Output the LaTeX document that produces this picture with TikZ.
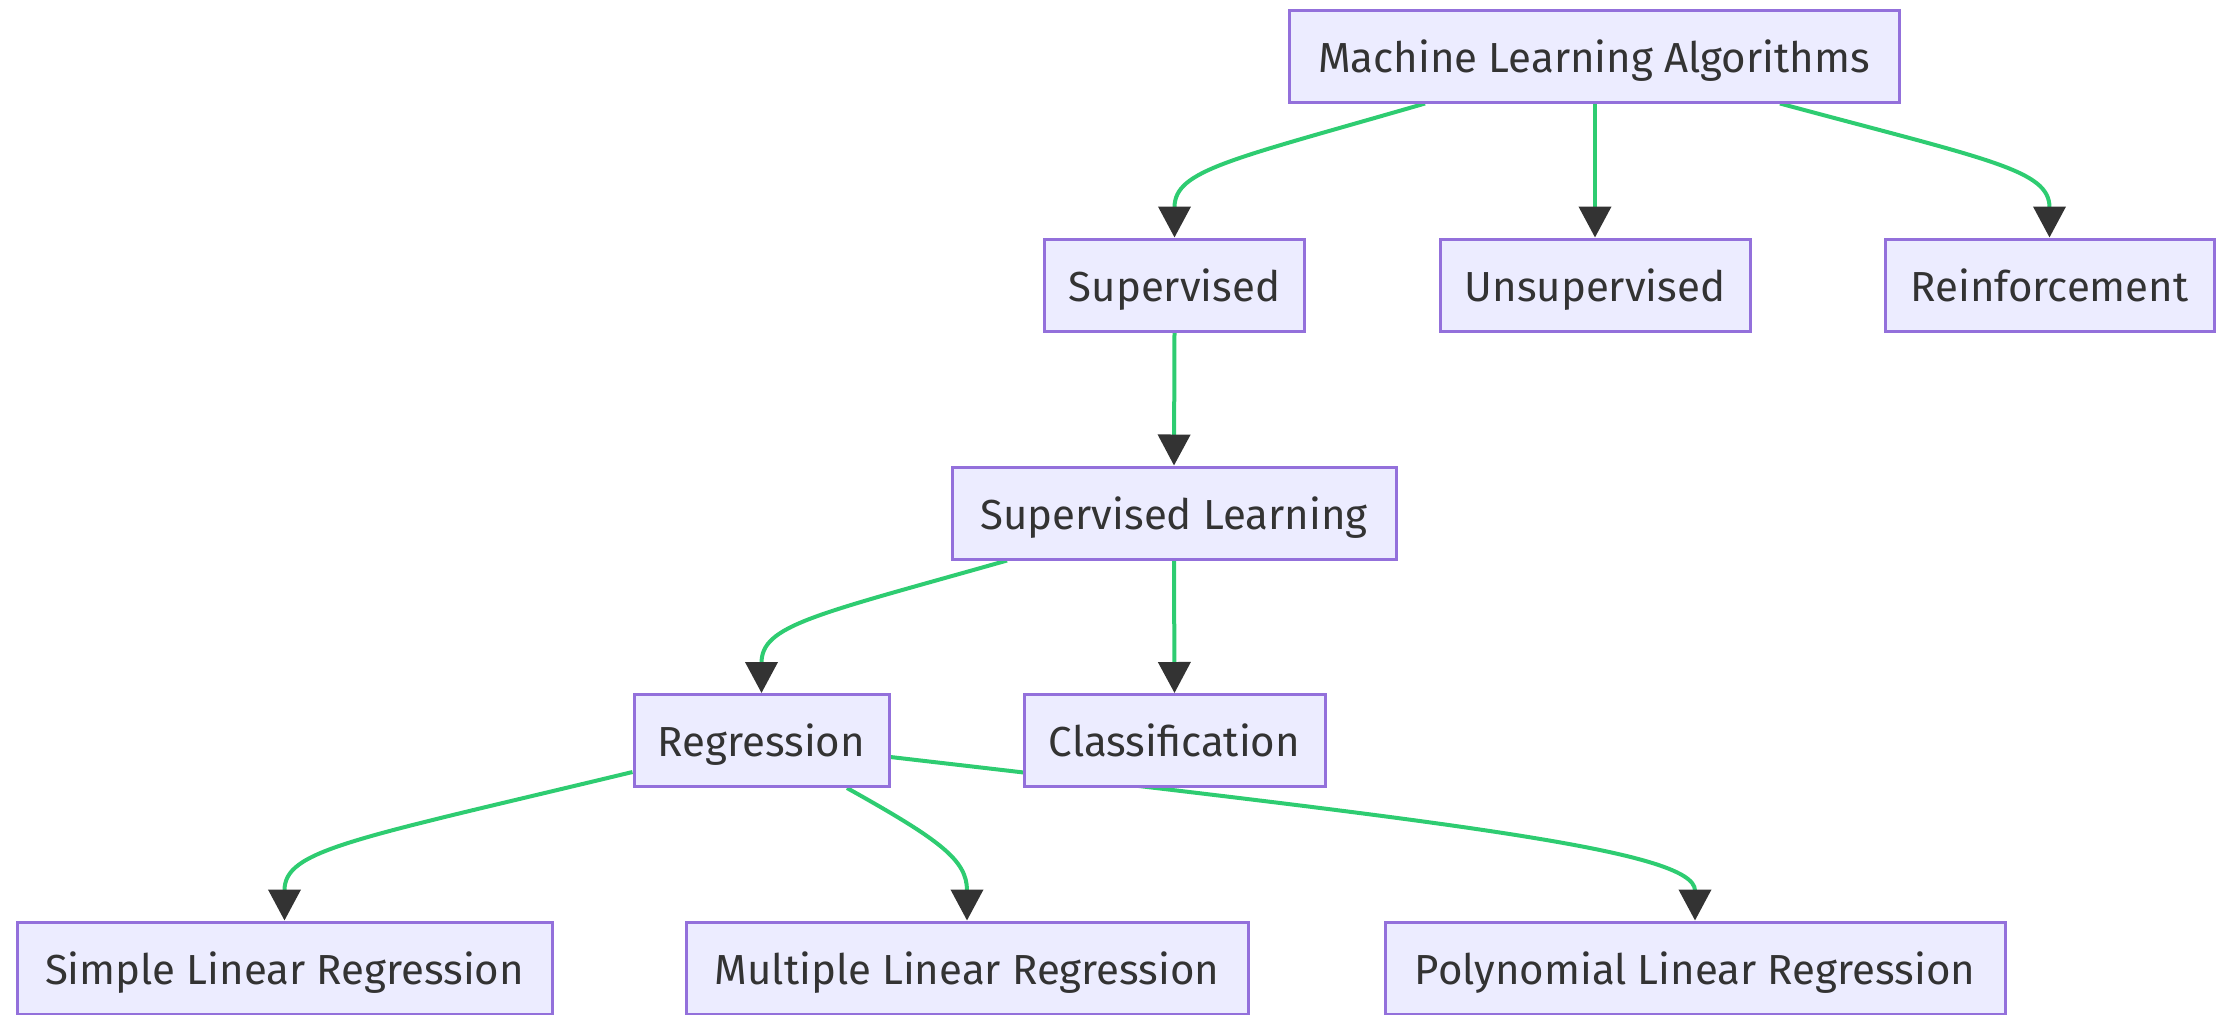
\documentclass[tikz,border=0pt]{standalone}
\usepackage{fontspec}
\setmainfont{Fira Sans}
\usetikzlibrary{arrows.meta,backgrounds}
\definecolor{boxfill}{HTML}{ECECFF}
\definecolor{boxline}{HTML}{9370DB}
\definecolor{txt}{HTML}{333333}
\definecolor{link}{HTML}{2ECC71}
\definecolor{tipc}{HTML}{333333}
\begin{document}
\begin{tikzpicture}[x=0.5pt,y=-0.5pt,
  box/.style={draw=boxline,fill=boxfill,line width=1.5pt,rectangle,
    minimum height=46pt,inner sep=0pt,text=txt,
    text height=19pt,text depth=3pt,
    font=\fontsize{21}{25}\selectfont},
  edge/.style={draw=link,line width=2pt,
    -{Triangle[length=15.5pt,width=16pt,color=tipc]}}]
\useasboundingbox (0,0) rectangle (2224,1014);
% nodes
\node[box,minimum width=305pt] (mla)  at (1594,56)  {Machine Learning Algorithms};
\node[box,minimum width=130pt] (sup)  at (1174.5,285) {Supervised};
\node[box,minimum width=155pt] (uns)  at (1595,285) {Unsupervised};
\node[box,minimum width=164.5pt] (rei) at (2049.5,285) {Reinforcement};
\node[box,minimum width=222pt] (supl) at (1174,513) {Supervised Learning};
\node[box,minimum width=127.5pt] (reg) at (761.5,740.5) {Regression};
\node[box,minimum width=150.5pt] (cls) at (1174.5,740.5) {Classification};
\node[box,minimum width=267.5pt] (slr) at (284.5,968) {Simple Linear Regression};
\node[box,minimum width=281pt] (mlr) at (967,968) {Multiple Linear Regression};
\node[box,minimum width=310pt] (plr) at (1695,968) {Polynomial Linear Regression};
% connectors, kept behind the boxes
\begin{scope}[on background layer]
\draw[edge] (mla.south -| 1425,0) .. controls (1230,160) and (sup.north |- 0,170) .. (sup.north);
\draw[edge] (mla.south -| uns.north) -- (uns.north);
\draw[edge] (mla.south -| 1780,0) .. controls (1990,160) and (rei.north |- 0,170) .. (rei.north);
\draw[edge] (sup.south) -- (supl.north);
\draw[edge] (supl.south -| 1007,0) .. controls (815,615) and (reg.north |- 0,625) .. (reg.north);
\draw[edge] (supl.south) -- (cls.north);
\draw[edge] (reg.west |- 0,772) .. controls (350,840) and (slr.north |- 0,850) .. (slr.north);
\draw[edge] (reg.south -| 847,0) .. controls (940,840) and (mlr.north |- 0,860) .. (mlr.north);
\draw[edge] (reg.east |- 0,757) .. controls (1450,822) and (plr.north |- 0,850) .. (plr.north);
\end{scope}
\end{tikzpicture}
\end{document}
